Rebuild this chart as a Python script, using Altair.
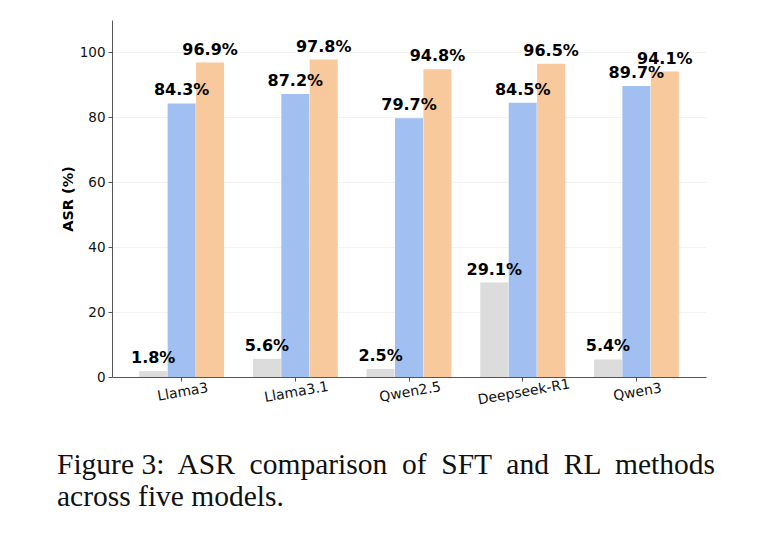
import altair as alt
import pandas as pd

models = ["Llama3", "Llama3.1", "Qwen2.5", "Deepseek-R1", "Qwen3"]
series = ["Base", "SFT", "RL"]
base_vals = [1.8, 5.6, 2.5, 29.1, 5.4]
sft_vals = [84.3, 87.2, 79.7, 84.5, 89.7]
rl_vals = [96.9, 97.8, 94.8, 96.5, 94.1]
colors = ["#dcdcdc", "#a1bff0", "#f8c99c"]
y_ticks = [0, 20, 40, 60, 80, 100]

caption_line1 = "Figure\u00a03:\u00a0 ASR \u00a0comparison \u00a0of \u00a0SFT \u00a0and \u00a0RL \u00a0methods"
caption_line2 = "across five models."

rows = []
for m, b, s, r in zip(models, base_vals, sft_vals, rl_vals):
    rows.append({"model": m, "series": "Base", "value": b})
    rows.append({"model": m, "series": "SFT", "value": s})
    rows.append({"model": m, "series": "RL", "value": r})
df = pd.DataFrame(rows)
df["label"] = df["value"].map(lambda v: f"{v:.1f}%")

FONT = "DejaVu Sans"

x_enc = alt.X(
    "model:N",
    sort=models,
    scale=alt.Scale(paddingInner=0.25, paddingOuter=0.2375),
    axis=alt.Axis(
        title=None,
        labelAngle=-10,
        labelAlign="center",
        labelBaseline="top",
        labelFont=FONT,
        labelFontSize=14,
        labelColor="#111",
        labelPadding=4,
        tickSize=4,
        tickColor="#555",
        domainColor="#555",
        domainWidth=1,
        grid=False,
    ),
)
xoff = alt.XOffset("series:N", sort=series, scale=alt.Scale(paddingInner=0, paddingOuter=0))
y_enc = alt.Y(
    "value:Q",
    scale=alt.Scale(domain=[0, 110], nice=False),
    axis=alt.Axis(
        title="ASR (%)",
        values=y_ticks,
        titleFont=FONT,
        titleFontSize=14.5,
        titleFontWeight="bold",
        titleColor="#000",
        titlePadding=4,
        labelFont=FONT,
        labelFontSize=13.5,
        labelColor="#111",
        labelPadding=3,
        tickSize=4,
        tickColor="#555",
        domainColor="#555",
        domainWidth=1,
        grid=True,
        gridColor="#eeeeee",
        gridOpacity=0.7,
        gridWidth=1,
    ),
)

bars = alt.Chart(df).mark_bar(size=28).encode(
    x=x_enc,
    xOffset=xoff,
    y=y_enc,
    color=alt.Color("series:N", sort=series,
                    scale=alt.Scale(domain=series, range=colors), legend=None),
)

labels = alt.Chart(df).mark_text(
    font=FONT, fontSize=16, fontWeight="bold", color="#000",
    align="center", baseline="alphabetic", dy=-8,
).encode(
    x=alt.X("model:N", sort=models),
    xOffset=alt.XOffset("series:N", sort=series),
    y=alt.Y("value:Q"),
    text="label:N",
)

caption = alt.Chart(pd.DataFrame({"t": [caption_line1 + "\n" + caption_line2]})).mark_text(
    font="Liberation Serif", fontSize=29.5, color="#111", align="left",
    baseline="alphabetic", lineBreak="\n", lineHeight=32,
).encode(
    x=alt.value(-55),
    y=alt.value(454),
    text="t:N",
)

chart = alt.layer(bars, labels, caption).properties(
    width=594,
    height=357,
    autosize=alt.AutoSizeParams(type="none"),
    padding={"left": 104, "top": 12, "right": 40, "bottom": 170},
).configure(background="white").configure_view(stroke=None, strokeWidth=0)

chart.save("out.html", embed_options={"renderer": "svg", "actions": False})
